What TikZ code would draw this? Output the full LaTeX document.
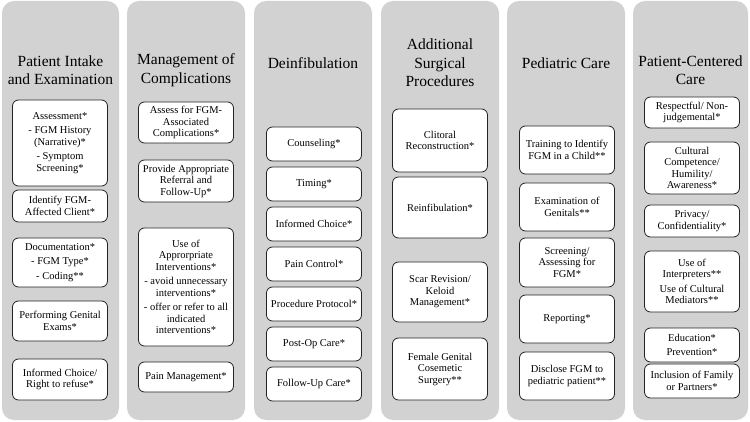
\documentclass[tikz,border=0pt]{standalone}
\usepackage{fontspec}
\setmainfont{Liberation Serif}
\definecolor{panelgray}{RGB}{210,210,210}
\definecolor{boxline}{RGB}{35,35,35}
\begin{document}
\begin{tikzpicture}[x=1pt,y=-1pt,
  panel/.style={fill=panelgray, draw=none, rounded corners=12pt},
  title/.style={align=center, font=\fontsize{15.5}{18.5}\selectfont, inner sep=0pt},
  item/.style={draw=boxline, line width=0.8pt, fill=white, rounded corners=6pt,
    align=center, font=\fontsize{10.5}{11.5}\selectfont, minimum width=95pt, inner sep=0pt}]
\useasboundingbox (0,0) rectangle (750,422);
% panels
\path[panel] (2,1) rectangle (119,420);
\path[panel] (127,1) rectangle (245,420);
\path[panel] (254,1) rectangle (372,420);
\path[panel] (381,1) rectangle (499,420);
\path[panel] (507,1) rectangle (625,420);
\path[panel] (633,1) rectangle (748,420);
% titles
\node[title] (t1) at (60.5,70) {Patient Intake\\and Examination};
\node[title] (t2) at (186,70) {Management of\\Complications};
\node[title] (t3) at (313,63) {Deinfibulation};
\node[title] (t4) at (440,63) {Additional\\Surgical\\Procedures};
\node[title] (t5) at (566,63) {Pediatric Care};
\node[title] (t6) at (690.5,70) {Patient-Centered\\Care};
% column 1
\node[item, minimum height=86pt] (a1) at (60,143) {Assessment*\\[3pt]- FGM History\\(Narrative)*\\[3pt]- Symptom\\Screening*};
\node[item, minimum height=32pt] (a2) at (60,206) {Identify FGM-\\Affected Client*};
\node[item, minimum height=49pt] (a3) at (60,262.5) {Documentation*\\[3pt]- FGM Type*\\[3pt]- Coding**};
\node[item, minimum height=40pt] (a4) at (60,321) {Performing Genital\\Exams*};
\node[item, minimum height=41pt] (a5) at (60,379.5) {Informed Choice/\\Right to refuse*};
% column 2
\node[item, minimum height=41pt] (b1) at (186,122.5) {Assess for FGM-\\Associated\\Complications*};
\node[item, minimum height=42pt] (b2) at (186,181) {Provide Appropriate\\Referral and\\Follow-Up*};
\node[item, minimum height=118pt] (b3) at (186,287) {Use of\\Approrpriate\\Interventions*\\[3pt]- avoid unnecessary\\interventions*\\[3pt]- offer or refer to all\\indicated\\interventions*};
\node[item, minimum height=30pt] (b4) at (186,377) {Pain Management*};
% column 3
\node[item, minimum height=34pt] (c1) at (314,144) {Counseling*};
\node[item, minimum height=34pt] (c2) at (314,184) {Timing*};
\node[item, minimum height=34pt] (c3) at (314,224) {Informed Choice*};
\node[item, minimum height=34pt] (c4) at (314,264) {Pain Control*};
\node[item, minimum height=34pt] (c5) at (314,304) {Procedure Protocol*};
\node[item, minimum height=34pt] (c6) at (314,344) {Post-Op Care*};
\node[item, minimum height=34pt] (c7) at (314,384) {Follow-Up Care*};
% column 4
\node[item, minimum height=63pt] (d1) at (440,140.5) {Clitoral\\Reconstruction*};
\node[item, minimum height=61pt] (d2) at (440,207.5) {Reinfibulation*};
\node[item, minimum height=60pt] (d3) at (440,292) {Scar Revision/\\Keloid\\Management*};
\node[item, minimum height=62pt] (d4) at (440,369) {Female Genital\\Cosemetic\\Surgery**};
% column 5
\node[item, minimum height=48pt] (e1) at (567,150) {Training to Identify\\FGM in a Child**};
\node[item, minimum height=48pt] (e2) at (567,207) {Examination of\\Genitals**};
\node[item, minimum height=49pt] (e3) at (567,262.5) {Screening/\\Assessing for\\FGM*};
\node[item, minimum height=48pt] (e4) at (567,319) {Reporting*};
\node[item, minimum height=48pt] (e5) at (567,376) {Disclose FGM to\\pediatric patient**};
% column 6
\node[item, minimum height=31pt] (f1) at (692,112.5) {Respectful/ Non-\\judgemental*};
\node[item, minimum height=52pt] (f2) at (692,168) {Cultural\\Competence/\\Humility/\\Awareness*};
\node[item, minimum height=32pt] (f3) at (692,221) {Privacy/\\Confidentiality*};
\node[item, minimum height=61pt] (f4) at (692,281.5) {Use of\\Interpreters**\\[3pt]Use of Cultural\\Mediators**};
\node[item, minimum height=34pt] (f5) at (692,345) {Education*\\[3pt]Prevention*};
\node[item, minimum height=34pt] (f6) at (692,381) {Inclusion of Family\\or Partners*};
\end{tikzpicture}
\end{document}
